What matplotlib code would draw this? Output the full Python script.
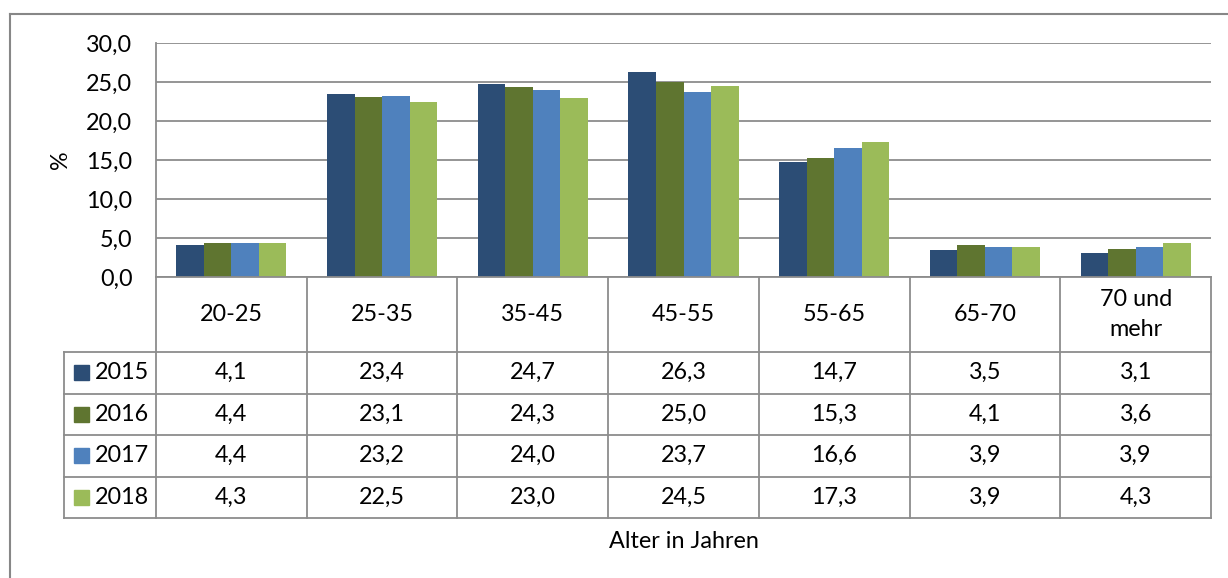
import matplotlib
matplotlib.use("Agg")
import matplotlib.pyplot as plt
import matplotlib.transforms as mtransforms
from matplotlib.patches import Rectangle
import numpy as np

plt.rcParams['font.family'] = ['Lato', 'DejaVu Sans']

categories = ["20-25", "25-35", "35-45", "45-55", "55-65", "65-70", "70 und\nmehr"]
years = ["2015", "2016", "2017", "2018"]
v2015 = [4.1, 23.4, 24.7, 26.3, 14.7, 3.5, 3.1]
v2016 = [4.4, 23.1, 24.3, 25.0, 15.3, 4.1, 3.6]
v2017 = [4.4, 23.2, 24.0, 23.7, 16.6, 3.9, 3.9]
v2018 = [4.3, 22.5, 23.0, 24.5, 17.3, 3.9, 4.3]
series = [v2015, v2016, v2017, v2018]
colors = ["#2C4D75", "#5F7530", "#4F81BD", "#9BBB59"]
yticks = [0, 5, 10, 15, 20, 25, 30]

W, H = 1228, 578
fig = plt.figure(figsize=(W / 100, H / 100), dpi=100)
FS = 16.8
GRID = "#8C8C8C"

def fx(px):
    return px / W

def fy(py):
    return 1 - py / H

# outer chart border
fig.add_artist(plt.Line2D([fx(10), fx(10)], [fy(14), fy(600)], color="#878787", lw=1.5,
                          transform=fig.transFigure))
fig.add_artist(plt.Line2D([fx(10), fx(1240)], [fy(14), fy(14)], color="#878787", lw=1.5,
                          transform=fig.transFigure))

ax = fig.add_axes([fx(156), fy(277), fx(1211) - fx(156), fy(43) - fy(277)])
x = np.arange(len(categories))
bw = 0.73 / 4
for i, (vals, c) in enumerate(zip(series, colors)):
    ax.bar(x + (i - 1.5) * bw, vals, width=bw, color=c, zorder=3, linewidth=0)

ax.set_xlim(-0.5, len(categories) - 0.5)
ax.set_ylim(0, 30)
ax.set_yticks(yticks)
ax.set_yticklabels([f"{t:.1f}".replace(".", ",") for t in yticks], fontsize=FS)
ax.tick_params(axis="y", length=0, pad=17)
ax.set_xticks([])
for s in ["top", "right", "bottom"]:
    ax.spines[s].set_visible(False)
ax.spines["left"].set_color(GRID)
ax.spines["left"].set_linewidth(1.3)
ax.grid(axis="y", color=GRID, lw=1.3, zorder=0)
ax.set_ylabel("%", fontsize=FS, labelpad=11)

# data table
tr = mtransforms.blended_transform_factory(ax.transData, fig.transFigure)
row_py = [277, 352, 393.5, 435, 476.5, 517.5]
n = len(categories)
lw = 1.3
# horizontal lines
fig.add_artist(plt.Line2D([-0.5, n - 0.5], [fy(277), fy(277)], color=GRID, lw=lw, transform=tr))
for py in row_py[1:]:
    fig.add_artist(plt.Line2D([fx(64), fx(1211)], [fy(py), fy(py)], color=GRID, lw=lw,
                              transform=fig.transFigure))
# vertical lines
for k in range(n + 1):
    fig.add_artist(plt.Line2D([k - 0.5, k - 0.5], [fy(277), fy(517.5)], color=GRID, lw=lw,
                              transform=tr))
fig.add_artist(plt.Line2D([fx(64), fx(64)], [fy(352), fy(517.5)], color=GRID, lw=lw,
                          transform=fig.transFigure))

# header labels
for k, cat in enumerate(categories):
    fig.text(k, fy((277 + 352) / 2), cat, transform=tr, ha="center", va="center",
             fontsize=FS, linespacing=1.5)

# rows
for r, (yr, vals, c) in enumerate(zip(years, series, colors)):
    yc = fy((row_py[r + 1] + row_py[r + 2]) / 2)
    fig.add_artist(Rectangle((fx(74), yc - 7.5 / H), 15 / W, 15 / H, color=c,
                             transform=fig.transFigure))
    fig.text(fx(95), yc, yr, ha="left", va="center", fontsize=FS)
    for k, v in enumerate(vals):
        fig.text(k, yc, f"{v:.1f}".replace(".", ","), transform=tr, ha="center",
                 va="center", fontsize=FS)

fig.text((n - 1) / 2, fy(541), "Alter in Jahren", transform=tr, ha="center", va="center",
         fontsize=FS)

fig.savefig("out.png", dpi=100)
